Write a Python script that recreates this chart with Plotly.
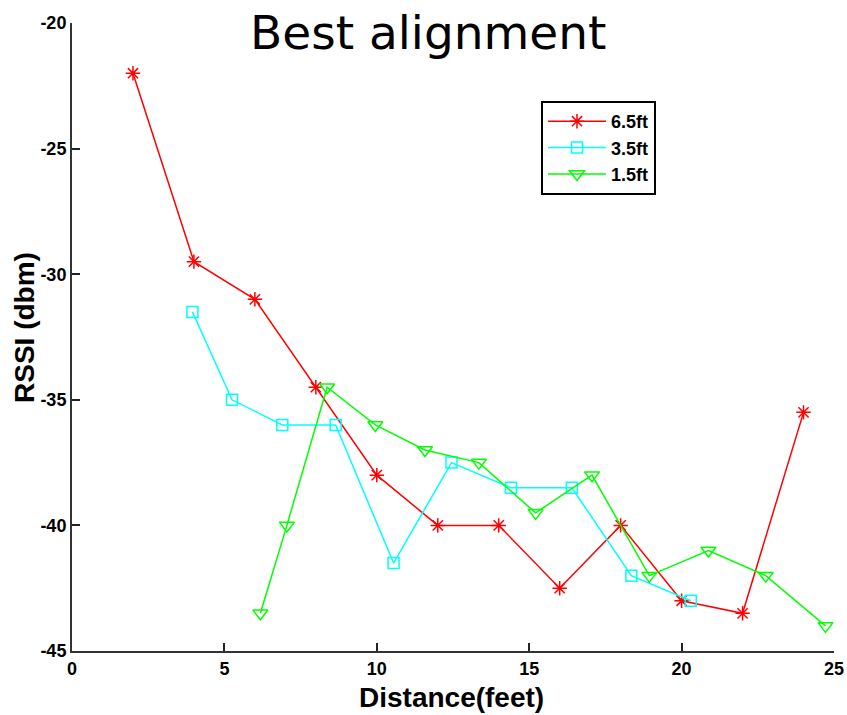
import plotly.graph_objects as go

# RSSI measurements (dBm) versus distance (feet) at three antenna heights
dist_65 = [2, 4, 6, 8, 10, 12, 14, 16, 18, 20, 22, 24]
rssi_65 = [-22, -29.5, -31, -34.5, -38, -40, -40, -42.5, -40, -43, -43.5, -35.5]

dist_35 = [3.95, 5.25, 6.9, 8.65, 10.55, 12.45, 14.4, 16.4, 18.35, 20.3]
rssi_35 = [-31.5, -35, -36, -36, -41.5, -37.5, -38.5, -38.5, -42, -43]

dist_15 = [6.18, 7.05, 8.37, 9.95, 11.58, 13.35, 15.21, 17.06, 18.94, 20.88, 22.76, 24.72]
rssi_15 = [-43.5, -40, -34.5, -36, -37, -37.5, -39.5, -38, -42, -41, -42, -44]

x_ticks = [0, 5, 10, 15, 20, 25]
y_ticks = [-45, -40, -35, -30, -25, -20]
y_tick_text = ["-45", "-40", "-35", "-30", "-25", "-20"]

W, H = 847, 715
L, R, T, B = 72, 13, 23, 64

fig = go.Figure()
fig.add_trace(go.Scatter(
    x=dist_65, y=rssi_65, name="6.5ft", mode="lines+markers",
    line=dict(color="#ff0000", width=1.5),
    marker=dict(symbol="asterisk-open", size=12, color="#ff0000",
                line=dict(color="#ff0000", width=1.5)),
))
fig.add_trace(go.Scatter(
    x=dist_35, y=rssi_35, name="3.5ft", mode="lines+markers",
    line=dict(color="#00ffff", width=1.5),
    marker=dict(symbol="square-open", size=11, color="#00ffff",
                line=dict(color="#00ffff", width=1.5)),
))
fig.add_trace(go.Scatter(
    x=dist_15, y=rssi_15, name="1.5ft", mode="lines+markers",
    line=dict(color="#00ff00", width=1.5),
    marker=dict(symbol="triangle-down-open", size=13, color="#00ff00",
                line=dict(color="#00ff00", width=1.5)),
))

tick_font = dict(family="Liberation Sans, Arial, sans-serif", size=18, color="black",
                 weight="bold")
axis_common = dict(
    showgrid=False, zeroline=False, showline=True, linecolor="#333333", linewidth=2,
    ticks="inside", ticklen=8, tickwidth=1.5, tickcolor="#222222",
    tickfont=tick_font, automargin=False,
)

fig.update_layout(
    width=W, height=H,
    margin=dict(l=L, r=R, t=T, b=B, autoexpand=False),
    paper_bgcolor="white", plot_bgcolor="white",
    showlegend=True,
    legend=dict(
        x=(541 - L) / (W - L - R), y=(H - B - 101) / (H - T - B),
        xanchor="left", yanchor="top",
        bgcolor="white", bordercolor="black", borderwidth=2,
        font=dict(family="Liberation Sans, Arial, sans-serif", size=18, color="black",
                  weight="bold"),
        itemwidth=58, tracegroupgap=0,
    ),
    xaxis=dict(range=[0, 25], tickvals=x_ticks, **axis_common),
    yaxis=dict(range=[-45, -20], tickvals=y_ticks, ticktext=y_tick_text, **axis_common),
)

pw, ph = W - L - R, H - T - B


def px_to_paper(px, py):
    return (px - L) / pw, (H - B - py) / ph


tx, ty = px_to_paper(428, 32)
ax_x, ax_y = px_to_paper(451, 697)
ay_x, ay_y = px_to_paper(25, 328)

fig.add_annotation(text="Best alignment", x=tx, y=ty, xref="paper", yref="paper",
                   xanchor="center", yanchor="middle", showarrow=False,
                   font=dict(family="DejaVu Sans, sans-serif", size=47, color="black"))
fig.add_annotation(text="<b>Distance(feet)</b>", x=ax_x, y=ax_y, xref="paper", yref="paper",
                   xanchor="center", yanchor="middle", showarrow=False,
                   font=dict(family="Liberation Sans, Arial, sans-serif", size=28, color="black"))
fig.add_annotation(text="<b>RSSI (dbm)</b>", x=ay_x, y=ay_y, xref="paper", yref="paper",
                   xanchor="center", yanchor="middle", showarrow=False, textangle=-90,
                   font=dict(family="Liberation Sans, Arial, sans-serif", size=28, color="black"))

fig.write_html("out.html")
